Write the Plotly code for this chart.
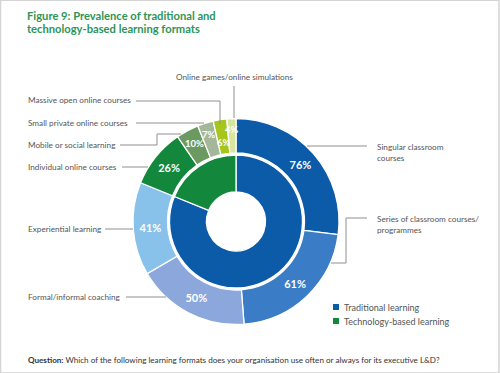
import math
import plotly.graph_objects as go

# ---------------- data ----------------
formats = ["Singular classroom courses", "Series of classroom courses/programmes",
           "Formal/informal coaching", "Experiential learning",
           "Individual online courses", "Mobile or social learning",
           "Small private online courses", "Massive open online courses",
           "Online games/online simulations"]
format_values = [76, 61, 50, 41, 26, 10, 7, 6, 4]
format_group = ["Traditional learning"] * 4 + ["Technology-based learning"] * 5
group_names = ["Traditional learning", "Technology-based learning"]
group_values = [sum(v for v, g in zip(format_values, format_group) if g == n) for n in group_names]

format_colors = ["#0b5ba8", "#3b7cc6", "#8ba7db", "#88c1ea", "#13883c",
                 "#6b9a61", "#a4b899", "#a7c61c", "#d7e59d"]
group_colors = ["#0b5ba8", "#13883c"]

W, H = 500, 373
def X(px): return px / W
def Y(py): return 1 - py / H

CX, CY = 236, 221.5
R_OUT, R_MID, R_HOLE = 103, 66.5, 29.5
N_BIG = 5  # slices labelled inside by the pie itself

fig = go.Figure()
fig.add_trace(go.Pie(
    labels=formats, values=format_values, sort=False, direction="clockwise", rotation=0,
    hole=68.5 / R_OUT,
    domain=dict(x=[X(CX - R_OUT), X(CX + R_OUT)], y=[Y(CY + R_OUT), Y(CY - R_OUT)]),
    marker=dict(colors=format_colors, line=dict(color="white", width=1.3)),
    texttemplate=["%{value}%"] * N_BIG + [""] * (len(format_values) - N_BIG),
    textposition="inside", insidetextorientation="horizontal",
    textfont=dict(family="Lato", size=11, color="white", weight="bold"),
    showlegend=False, hoverinfo="label+value",
))
fig.add_trace(go.Pie(
    labels=group_names, values=group_values, sort=False, direction="clockwise", rotation=0,
    hole=R_HOLE / R_MID,
    domain=dict(x=[X(CX - R_MID), X(CX + R_MID)], y=[Y(CY + R_MID), Y(CY - R_MID)]),
    marker=dict(colors=group_colors, line=dict(color="white", width=1.3)),
    textinfo="none", showlegend=False, hoverinfo="label+value",
))

annotations = []
shapes = []

# small-slice value labels, staggered radially along each slice's mid-angle
total = sum(format_values)
cum = sum(format_values[:N_BIG])
stagger = [88, 91, 80, 92]
for v, r in zip(format_values[N_BIG:], stagger):
    theta = math.radians((cum + v / 2) / total * 360)
    cum += v
    annotations.append(dict(text=f"{v}%", x=X(CX + r * math.sin(theta)), y=Y(CY - r * math.cos(theta)),
                            xref="paper", yref="paper", xanchor="center", yanchor="middle",
                            showarrow=False,
                            font=dict(family="Lato", size=9.5, color="white", weight="bold")))

label_font = dict(family="Lato", size=8.2, color="#555555")

def label(text, x, y, anchor="left"):
    annotations.append(dict(text=text, x=X(x), y=Y(y), xref="paper", yref="paper",
                            xanchor=anchor, yanchor="middle", showarrow=False,
                            align="left", font=label_font))

def path(points):
    d = "M " + " L ".join(f"{X(px)},{Y(py)}" for px, py in points)
    shapes.append(dict(type="path", path=d, xref="paper", yref="paper",
                       line=dict(color="#8f8f8f", width=1)))

# left-hand labels
label(formats[7], 26, 100)
path([(136, 101), (220, 101), (220, 124)])
label(formats[6], 26, 122.5)
path([(136, 123), (204, 123)])
label(formats[5], 26, 145)
path([(120, 145), (157, 145), (157, 134), (181, 134)])
label(formats[4], 26, 167)
path([(122, 167), (148, 167)])
label(formats[3], 26, 229)
path([(105, 229), (133, 229)])
label(formats[2], 26, 297)
path([(126, 297), (166, 297)])
# top label
annotations.append(dict(text=formats[8], x=X(234.5), y=Y(77),
                        xref="paper", yref="paper", xanchor="center", yanchor="middle",
                        showarrow=False, font=label_font))
path([(234, 86), (234, 118)])
# right-hand labels
label("Singular classroom<br>courses", 375, 152)
path([(307, 146), (367, 146)])
label("Series of classroom courses/<br>programmes", 375, 225)
path([(367, 218), (346, 218), (346, 263), (331, 263)])

# legend
for i, (name, col) in enumerate(zip(group_names, group_colors)):
    yy = 307 + 14 * i
    shapes.append(dict(type="rect", xref="paper", yref="paper",
                       x0=X(333), x1=X(339), y0=Y(yy + 3), y1=Y(yy - 3),
                       fillcolor=col, line=dict(width=0)))
    annotations.append(dict(text=name, x=X(342), y=Y(yy), xref="paper", yref="paper",
                            xanchor="left", yanchor="middle", showarrow=False,
                            font=dict(family="Lato", size=9, color="#555555")))

# title
title_font = dict(family="Lato", size=11.2, color="#2e9457", weight="bold")
for txt, yy in [("Figure 9: Prevalence of traditional and", 15),
                ("technology-based learning formats", 28)]:
    annotations.append(dict(text=txt, x=X(25), y=Y(yy), xref="paper", yref="paper",
                            xanchor="left", yanchor="middle", showarrow=False,
                            font=title_font))
# question
annotations.append(dict(text="<b>Question:</b> Which of the following learning formats does your organisation use often or always for its executive L&D?",
                        x=X(26), y=Y(360), xref="paper", yref="paper", xanchor="left", yanchor="middle",
                        showarrow=False, font=dict(family="Lato", size=8.1, color="#333333")))

# frame
shapes.append(dict(type="rect", xref="paper", yref="paper", x0=0.001, x1=0.998, y0=0.0, y1=0.999,
                   line=dict(color="#d4d4d4", width=1.5)))

fig.update_layout(
    width=W, height=H, autosize=False,
    margin=dict(l=0, r=0, t=0, b=0),
    paper_bgcolor="white", plot_bgcolor="white",
    annotations=annotations, shapes=shapes,
)
fig.write_html("out.html", config={"displayModeBar": False},
               post_script="document.body.style.margin='0';document.body.style.padding='0';document.body.style.overflow='hidden';")
